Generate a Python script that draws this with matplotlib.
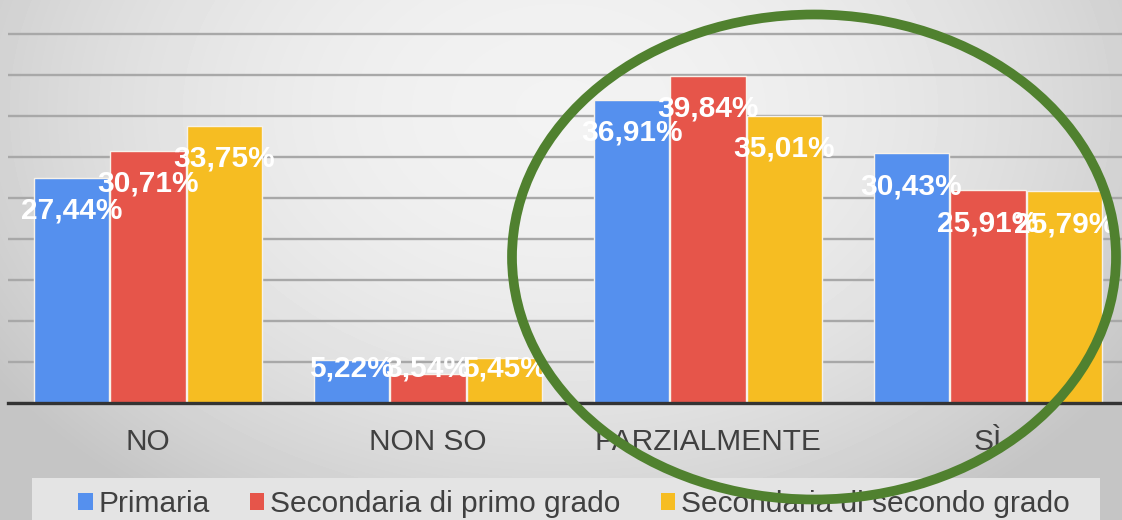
# Survey chart: grouped bars by school level, with a hand-drawn style
# green ellipse highlighting the PARZIALMENTE / SÌ groups.

import numpy as np
import matplotlib
matplotlib.use("Agg")
import matplotlib.pyplot as plt
from matplotlib.patches import Patch, Ellipse, Rectangle

# ── Data ────────────────────────────────────────────────────
categories  = ["NO", "NON SO", "PARZIALMENTE", "SÌ"]
primaria    = [27.44, 5.22, 36.91, 30.43]
sec_primo   = [30.71, 3.54, 39.84, 25.91]
sec_secondo = [33.75, 5.45, 35.01, 25.79]
series_names = ["Primaria", "Secondaria di primo grado",
                "Secondaria di secondo grado"]

# ── Style ───────────────────────────────────────────────────
COLOURS = ["#5590ee", "#e6554a", "#f6bd22"]
INK     = "#404040"
GRID    = "#a8a8a8"
RING    = "#50812f"
W, H    = 1122, 520

plt.rcParams["font.family"] = ["Liberation Sans", "DejaVu Sans"]

fig = plt.figure(figsize=(W / 100, H / 100), dpi=100)

# soft grey vignette behind everything
bg = fig.add_axes([0, 0, 1, 1], zorder=-10)
yy, xx = np.mgrid[0:H, 0:W]
d = np.sqrt(((xx - 560) / 600) ** 2 + ((yy - 110) / 430) ** 2)
shade = np.clip(0.95 - 0.14 * d ** 2, 0.77, 0.95)
bg.imshow(shade, cmap="gray", vmin=0, vmax=1, aspect="auto",
          extent=[0, W, H, 0])
bg.set_xlim(0, W)
bg.set_ylim(H, 0)
bg.axis("off")

# main plot area
ax = fig.add_axes([8 / W, 117 / H, 1120 / W, 403 / H])
ax.patch.set_alpha(0)
ax.set_xlim(-0.5, 3.5)
ax.set_ylim(0, 49.1)

x = np.arange(len(categories))
bw = 0.27
for i, (vals, col, name) in enumerate(zip([primaria, sec_primo, sec_secondo],
                                           COLOURS, series_names)):
    pos = x + (i - 1) * (bw + 0.003)
    bars = ax.bar(pos, vals, width=bw, color=col, edgecolor="#f7f2ea",
                  linewidth=1, zorder=3, label=name)
    for bar, v in zip(bars, vals):
        ax.text(bar.get_x() + bar.get_width() / 2, max(v - 4.0, 4.26),
                f"{v:.2f}".replace(".", ",") + "%",
                ha="center", va="center", color="white",
                fontsize=21.5, fontweight="bold", zorder=5)

ax.set_yticks(range(0, 50, 5))
ax.set_yticklabels([])
ax.grid(axis="y", color=GRID, linewidth=1.7, zorder=1)
ax.axhline(0, color="#333333", linewidth=2.4, zorder=4, clip_on=False)
ax.set_xticks(x)
ax.set_xticklabels(categories, fontsize=21.5, color=INK)
ax.tick_params(axis="both", length=0)
ax.tick_params(axis="x", pad=18)
for s in ax.spines.values():
    s.set_visible(False)

# legend box along the bottom
fig.add_artist(Rectangle((32 / W, 0), 1068 / W, 42 / H,
                         transform=fig.transFigure,
                         facecolor="#e4e4e4", edgecolor="none", zorder=0))
handles = [Patch(facecolor=c, edgecolor="none") for c in COLOURS]
fig.legend(handles, series_names, loc="center", ncol=3,
           bbox_to_anchor=(574 / W, 1 - 504 / H),
           frameon=False, fontsize=21.5, labelcolor=INK,
           handlelength=0.47, handleheight=0.47, handletextpad=0.2,
           columnspacing=1.35, borderpad=0)

# green highlight ring
fig.add_artist(Ellipse((814 / W, 1 - 257 / H), 604 / W, 485 / H,
                       transform=fig.transFigure, fill=False,
                       edgecolor=RING, linewidth=7, zorder=10))

fig.savefig("out.png", dpi=100)
